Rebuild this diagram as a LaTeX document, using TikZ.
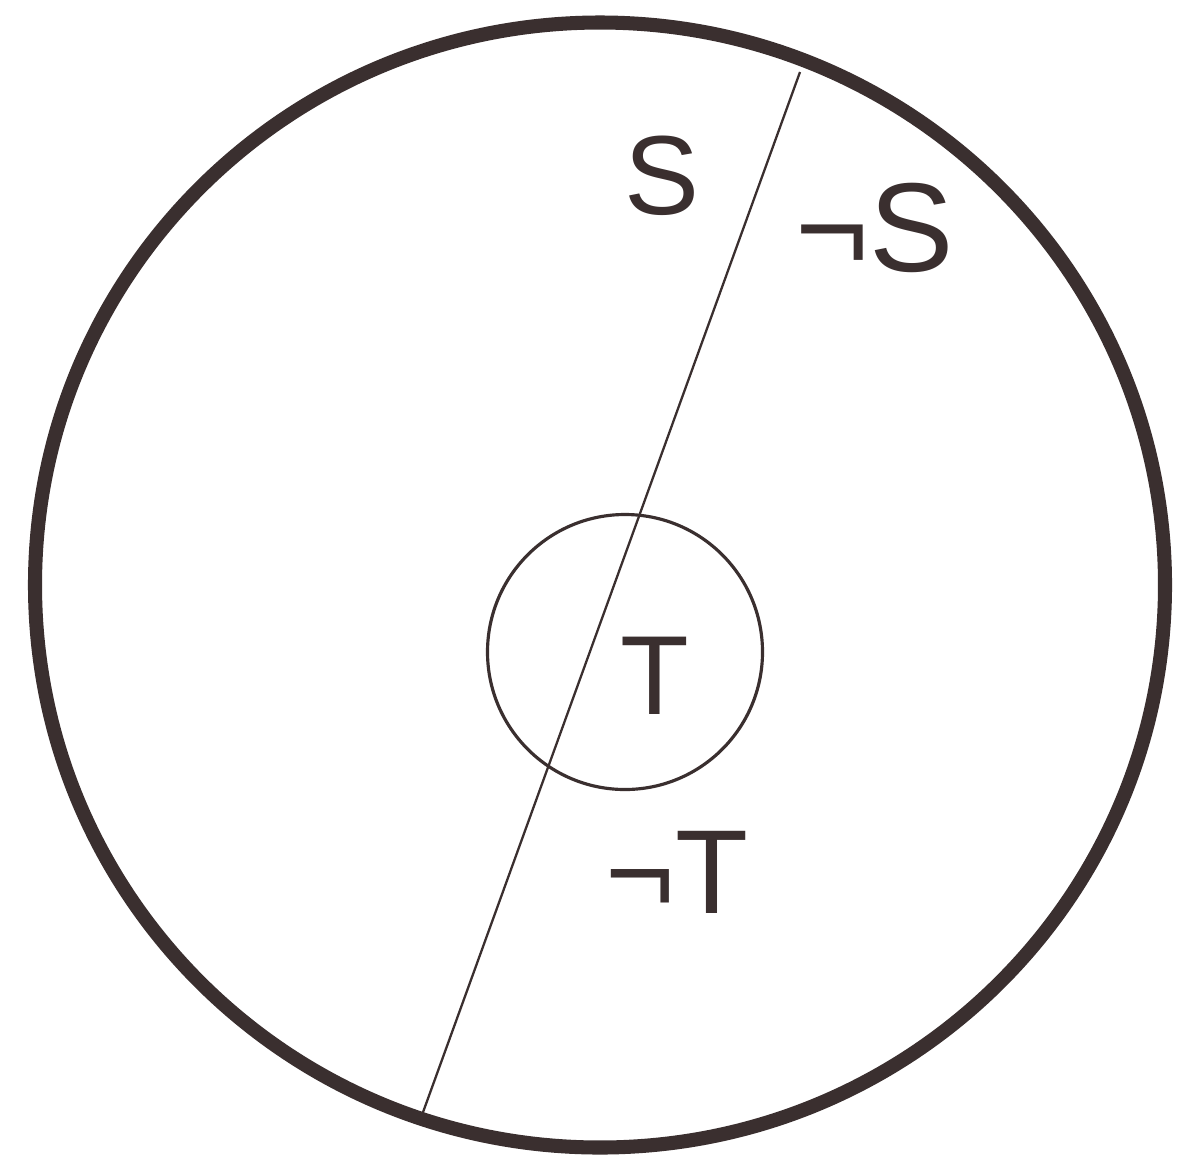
\documentclass[tikz,border=0pt]{standalone}
\usepackage{fontspec}
\setmainfont{Liberation Sans}
\usetikzlibrary{shapes.geometric}
\definecolor{ink}{HTML}{3A2F2F}
\begin{document}
\begin{tikzpicture}[x=0.02cm,y=-0.02cm,
  lbl/.style={text=ink,inner sep=0pt,font=\fontsize{64}{68}\selectfont}]
\useasboundingbox (0,0) rectangle (1193,1171);
\fill[white] (0,0) rectangle (1193,1171);
\node[draw=ink,line width=8pt,ellipse,minimum width=1130*0.02cm,minimum height=1125*0.02cm,inner sep=0pt,outer sep=0pt] (big) at (600,585) {};
\node[draw=ink,line width=1.8pt,circle,minimum size=275*0.02cm,inner sep=0pt] (small) at (625,652) {};
\coordinate (ltop) at (800,72);
\coordinate (lbot) at (422,1115);
\draw[ink,line width=1.3pt] (ltop) -- (lbot);
\node[lbl] (s) at (662,176) {S};
\node[lbl,font=\fontsize{72}{76}\selectfont] (ns) at (875,228) {¬S};
\node[lbl] (t) at (655,676) {T};
\node[lbl,font=\fontsize{68}{72}\selectfont] (nt) at (677,872) {¬T};
\end{tikzpicture}
\end{document}
